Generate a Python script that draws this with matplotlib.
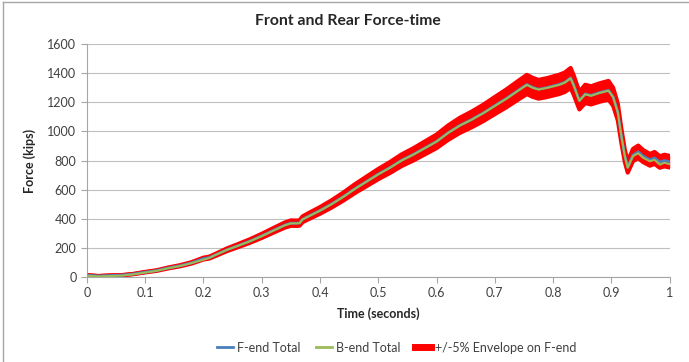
import numpy as np
import matplotlib.pyplot as plt
from matplotlib.lines import Line2D

# Time samples (seconds)
time_s = [0.0, 0.02, 0.04, 0.06, 0.08, 0.10, 0.12, 0.14, 0.16, 0.18, 0.20, 0.21,
          0.22, 0.24, 0.26, 0.28, 0.30, 0.32, 0.34, 0.35, 0.36, 0.365, 0.37, 0.38,
          0.40, 0.42, 0.44, 0.46, 0.48, 0.50, 0.52, 0.54, 0.56, 0.58, 0.60, 0.62,
          0.64, 0.66, 0.68, 0.70, 0.72, 0.74, 0.755, 0.765, 0.775, 0.79, 0.81, 0.82,
          0.83, 0.835, 0.845, 0.855, 0.865, 0.88, 0.895, 0.903, 0.911, 0.917, 0.923,
          0.928, 0.937, 0.946, 0.954, 0.966, 0.974, 0.983, 0.991, 1.0]

# Front end total force (kips)
f_end = [12, 6, 10, 12, 20, 33, 44, 62, 77, 97, 126, 133,
         150, 186, 216, 247, 282, 320, 357, 370, 369, 371, 396, 417,
         457, 502, 552, 607, 657, 707, 752, 802, 842, 887, 932, 992,
         1042, 1082, 1127, 1178, 1228, 1283, 1323, 1303, 1290, 1302, 1323, 1338,
         1368, 1322, 1212, 1258, 1248, 1268, 1283, 1238, 1133, 972, 832,
         755, 838, 860, 832, 805, 818, 790, 800, 792]

# Rear (B-end) total force (kips)
b_end = [8, 4, 6, 9, 18, 30, 42, 60, 75, 95, 118, 130,
         150, 185, 215, 245, 280, 318, 355, 368, 368, 370, 395, 415,
         455, 500, 550, 605, 655, 705, 750, 800, 840, 885, 930, 990,
         1040, 1080, 1125, 1175, 1225, 1280, 1320, 1300, 1288, 1300, 1320, 1335,
         1365, 1320, 1210, 1255, 1245, 1265, 1280, 1235, 1130, 970, 830,
         750, 830, 850, 820, 795, 805, 772, 785, 775]

envelope_pct = 5.0

t = np.array(time_s)
f = np.array(f_end)
lo = f * (1 - envelope_pct / 100)
hi = f * (1 + envelope_pct / 100)

red = '#FF0000'
blue = '#4A7EBB'
green = '#9BBB59'

plt.rcParams['font.family'] = ['Lato', 'DejaVu Sans']

fig = plt.figure(figsize=(6.89, 3.62), dpi=100)
ax = fig.add_axes([0.126, 0.235, 0.846, 0.643])

# envelope band (drawn like dense error bars in the original)
ax.fill_between(t, lo, hi, color=red, lw=0, zorder=2)
ax.plot(t, hi, color=red, lw=3, zorder=2)
ax.plot(t, lo, color=red, lw=3, zorder=2)

ax.plot(t, f, color=blue, lw=2, zorder=3)
ax.plot(t, b_end, color=green, lw=1.5, zorder=4)

ax.set_xlim(0, 1)
ax.set_ylim(0, 1600)
ax.set_xticks(np.arange(0, 1.01, 0.1))
ax.set_xticklabels(['0', '0.1', '0.2', '0.3', '0.4', '0.5', '0.6', '0.7', '0.8', '0.9', '1'])
ax.set_yticks(range(0, 1601, 200))

ax.grid(axis='y', color='#BFBFBF', lw=0.8)
ax.set_axisbelow(True)
for s in ['top', 'right']:
    ax.spines[s].set_visible(False)
for s in ['left', 'bottom']:
    ax.spines[s].set_color('#A6A6A6')
ax.tick_params(axis='both', direction='out', length=4, color='#A6A6A6',
               labelsize=9, labelcolor='#404040')

# title is centred on the whole chart area, not the plot area
fig.text(0.505, 0.943, 'Front and Rear Force-time', ha='center', va='center',
         fontsize=11.3, fontweight='bold', color='#262626')
ax.set_xlabel('Time (seconds)', fontsize=9, fontweight='bold', color='#262626', labelpad=6)
ax.set_ylabel('Force (kips)', fontsize=9, fontweight='bold', color='#262626', labelpad=8)

handles = [Line2D([], [], color=blue, lw=2),
           Line2D([], [], color=green, lw=2),
           Line2D([], [], color=red, lw=5)]
labels = ['F-end Total', 'B-end Total', '+/-5% Envelope on F-end']
fig.legend(handles, labels, loc='center', bbox_to_anchor=(0.576, 0.04), ncol=3,
           frameon=False, fontsize=9, handlelength=1.3, handletextpad=0.3,
           columnspacing=1.2, labelcolor='#404040')

# chart area border (left and top edges visible in the crop)
fig.add_artist(Line2D([0.004, 0.004], [0, 0.995], color='#A6A6A6', lw=1, transform=fig.transFigure))
fig.add_artist(Line2D([0.004, 1], [0.995, 0.995], color='#A6A6A6', lw=1, transform=fig.transFigure))

fig.savefig('out.png', dpi=100)
